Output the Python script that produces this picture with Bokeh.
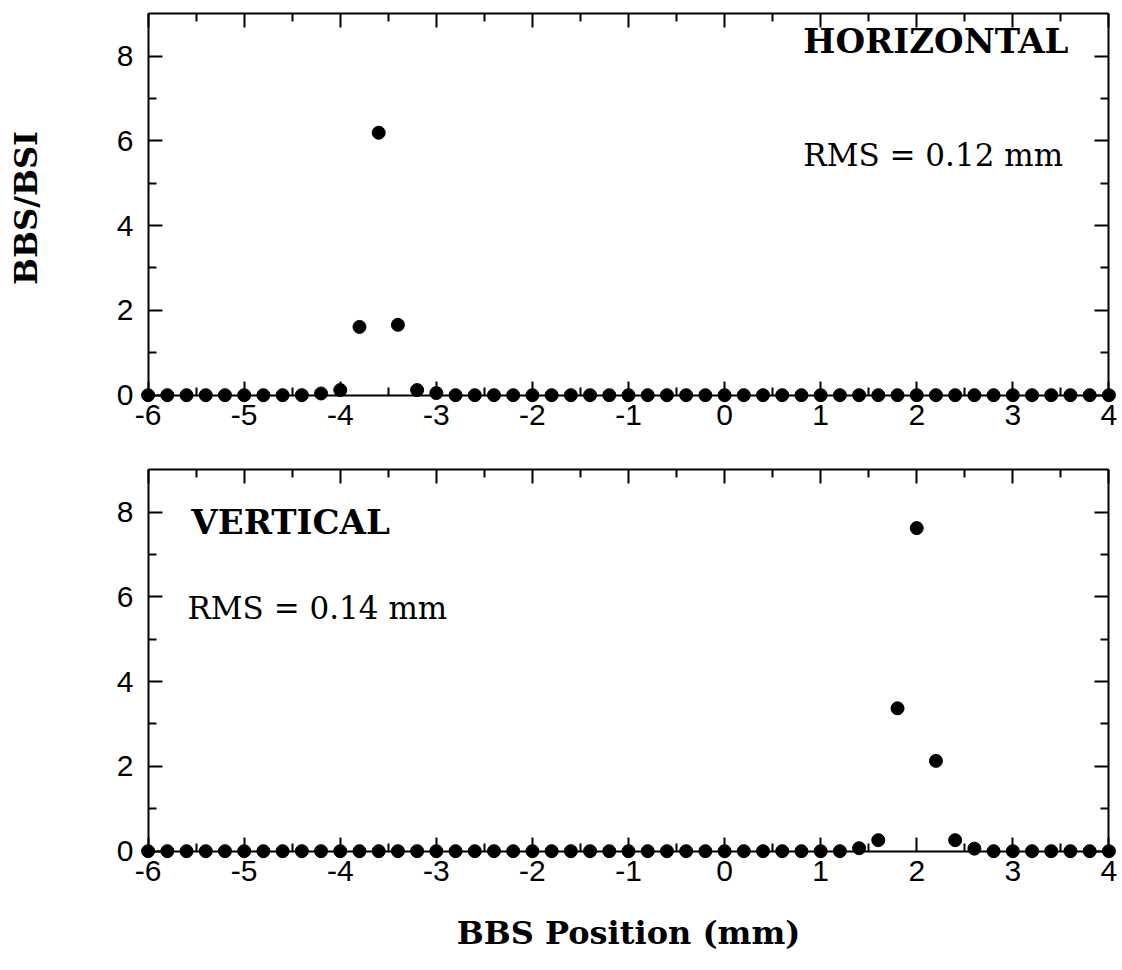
from bokeh.plotting import figure
from bokeh.models import LinearAxis, FixedTicker, Range1d, Label, CustomLabelingPolicy
from bokeh.layouts import column
from bokeh.embed import file_html
from bokeh.resources import INLINE

# ---------------- data ----------------
x_horizontal = [-6.0, -5.8, -5.6, -5.4, -5.2, -5.0, -4.8, -4.6, -4.4, -4.2,
                -4.0, -3.8, -3.6, -3.4, -3.2, -3.0, -2.8, -2.6, -2.4, -2.2,
                -2.0, -1.8, -1.6, -1.4, -1.2, -1.0, -0.8, -0.6, -0.4, -0.2,
                0.0, 0.2, 0.4, 0.6, 0.8, 1.0, 1.2, 1.4, 1.6, 1.8,
                2.0, 2.2, 2.4, 2.6, 2.8, 3.0, 3.2, 3.4, 3.6, 3.8, 4.0]
y_horizontal = [0.0, 0.0, 0.0, 0.0, 0.0, 0.0, 0.0, 0.0, 0.0, 0.04,
                0.12, 1.61, 6.19, 1.66, 0.12, 0.05, 0.0, 0.0, 0.0, 0.0,
                0.0, 0.0, 0.0, 0.0, 0.0, 0.0, 0.0, 0.0, 0.0, 0.0,
                0.0, 0.0, 0.0, 0.0, 0.0, 0.0, 0.0, 0.0, 0.0, 0.0,
                0.0, 0.0, 0.0, 0.0, 0.0, 0.0, 0.0, 0.0, 0.0, 0.0, 0.0]

x_vertical = [-6.0, -5.8, -5.6, -5.4, -5.2, -5.0, -4.8, -4.6, -4.4, -4.2,
              -4.0, -3.8, -3.6, -3.4, -3.2, -3.0, -2.8, -2.6, -2.4, -2.2,
              -2.0, -1.8, -1.6, -1.4, -1.2, -1.0, -0.8, -0.6, -0.4, -0.2,
              0.0, 0.2, 0.4, 0.6, 0.8, 1.0, 1.2, 1.4, 1.6, 1.8,
              2.0, 2.2, 2.4, 2.6, 2.8, 3.0, 3.2, 3.4, 3.6, 3.8, 4.0]
y_vertical = [0.0, 0.0, 0.0, 0.0, 0.0, 0.0, 0.0, 0.0, 0.0, 0.0,
              0.0, 0.0, 0.0, 0.0, 0.0, 0.0, 0.0, 0.0, 0.0, 0.0,
              0.0, 0.0, 0.0, 0.0, 0.0, 0.0, 0.0, 0.0, 0.0, 0.0,
              0.0, 0.0, 0.0, 0.0, 0.0, 0.0, 0.0, 0.07, 0.26, 3.37,
              7.62, 2.13, 0.26, 0.06, 0.0, 0.0, 0.0, 0.0, 0.0, 0.0, 0.0]

x_ticks = [-6, -5, -4, -3, -2, -1, 0, 1, 2, 3, 4]
x_tick_labels = ["-6", "-5", "-4", "-3", "-2", "-1", "0", "1", "2", "3", "4"]
x_minor_ticks = [-5.5, -4.5, -3.5, -2.5, -1.5, -0.5, 0.5, 1.5, 2.5, 3.5]
y_ticks = [0, 2, 4, 6, 8]
y_tick_labels = ["0", "2", "4", "6", "8"]
y_minor_ticks = [1, 3, 5, 7]

x_min, x_max = -6, 4
y_min, y_max = 0, 9

SERIF = "DejaVu Serif"
SANS = "Liberation Sans"
TICK_FS = "30px"
RMS_FS = "31px"
NAME_FS = "34px"
AXIS_FS = "32px"

NO_LABELS = "for (let i = 0; i < indices.size; i++) { indices.unset(i) }\nreturn indices"


def spine(fixed, bounds, ticker):
    """Frame line with inward ticks and no labels."""
    ax = LinearAxis(fixed_location=fixed, bounds=bounds, ticker=ticker,
                    major_label_policy=CustomLabelingPolicy(code=NO_LABELS))
    ax.axis_line_width = 2
    ax.major_tick_line_width = 2
    ax.minor_tick_line_width = 2
    ax.major_tick_out = 0
    ax.minor_tick_out = 0
    ax.major_tick_in = 14
    ax.minor_tick_in = 8
    return ax


def label_axis(ticks, labels, standoff):
    """Axis in the side panel that only carries the tick labels."""
    ax = LinearAxis(ticker=FixedTicker(ticks=ticks, minor_ticks=[]),
                    major_label_overrides=dict(zip(ticks, labels)))
    ax.axis_line_color = None
    ax.major_tick_line_color = None
    ax.minor_tick_line_color = None
    ax.major_tick_in = 0
    ax.major_tick_out = 0
    ax.minor_tick_in = 0
    ax.minor_tick_out = 0
    ax.major_label_standoff = standoff
    ax.major_label_text_font = SANS
    ax.major_label_text_font_size = TICK_FS
    ax.major_label_text_color = "black"
    return ax


def make_panel(xs, ys, height, top_border, bottom_border, name, rms,
               name_pos, rms_pos, ylabel=None, xlabel=None):
    p = figure(width=1122, height=height,
               x_range=Range1d(x_min - 0.1, x_max + 0.1),
               y_range=Range1d(y_min - 0.22, y_max + 0.05),
               x_axis_location=None, y_axis_location=None,
               toolbar_location=None, output_backend="svg",
               min_border_left=138, min_border_right=4,
               min_border_top=top_border, min_border_bottom=bottom_border)
    p.outline_line_color = None
    p.background_fill_color = "white"
    p.border_fill_color = "white"
    p.grid.visible = False

    xt = FixedTicker(ticks=x_ticks, minor_ticks=x_minor_ticks)
    yt = FixedTicker(ticks=y_ticks, minor_ticks=y_minor_ticks)

    # frame lines with inward ticks
    p.add_layout(spine(y_min, (x_min, x_max), xt), "below")
    p.add_layout(spine(y_max, (x_min, x_max), xt), "above")
    p.add_layout(spine(x_min, (y_min, y_max), yt), "left")
    p.add_layout(spine(x_max, (y_min, y_max), yt), "right")

    # tick labels (and axis titles)
    bx = label_axis(x_ticks, x_tick_labels, 0)
    if xlabel:
        bx.axis_label = xlabel
        bx.axis_label_text_font = SERIF
        bx.axis_label_text_font_style = "bold"
        bx.axis_label_text_font_size = AXIS_FS
        bx.axis_label_text_color = "black"
        bx.axis_label_standoff = 30
    p.add_layout(bx, "below")

    ly = label_axis(y_ticks, y_tick_labels, 5)
    if ylabel:
        ly.axis_label = ylabel
        ly.axis_label_text_font = SERIF
        ly.axis_label_text_font_style = "bold"
        ly.axis_label_text_font_size = AXIS_FS
        ly.axis_label_text_color = "black"
        ly.axis_label_standoff = 69
    p.add_layout(ly, "left")

    p.scatter(xs, ys, size=13, marker="circle", fill_color="black",
              line_color="black")

    p.add_layout(Label(x=name_pos[0], y=name_pos[1], text=name,
                       text_font=SERIF, text_font_style="bold",
                       text_font_size=NAME_FS, text_color="black",
                       text_align="left", text_baseline="alphabetic"))
    p.add_layout(Label(x=rms_pos[0], y=rms_pos[1], text=rms,
                       text_font=SERIF, text_font_size=RMS_FS,
                       text_color="black",
                       text_align="left", text_baseline="alphabetic"))
    return p


p1 = make_panel(x_horizontal, y_horizontal, 445, 11, 41,
                "HORIZONTAL", "RMS = 0.12 mm", (0.82, 8.35), (0.82, 5.66),
                ylabel="BBS/BSI")
p2 = make_panel(x_vertical, y_vertical, 525, 22, 110,
                "VERTICAL", "RMS = 0.14 mm", (-5.55, 7.77), (-5.59, 5.73),
                xlabel="BBS Position (mm)")

layout = column(p1, p2, spacing=0)
open("out.html", "w").write(file_html(layout, INLINE))
